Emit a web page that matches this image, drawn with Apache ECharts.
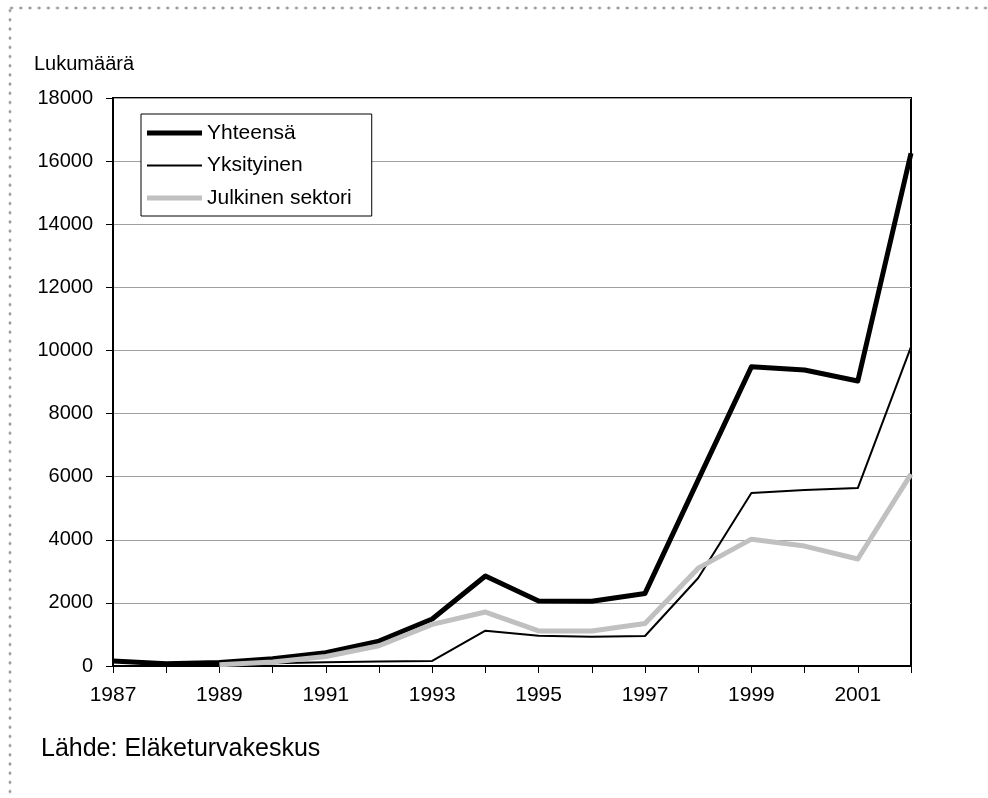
<!DOCTYPE html>
<html>
<head>
<meta charset="utf-8">
<script src="https://cdn.jsdelivr.net/npm/echarts@6/dist/echarts.min.js"></script>
<style>
  html, body { margin: 0; padding: 0; background: #fff; }
  #chart { position: absolute; left: 0; top: 0; width: 988px; height: 798px; }
  .dots-top { position: absolute; left: 7px; top: 6px; width: 990px; height: 4px;
    background-image: radial-gradient(circle, #9a9a9a 1.3px, rgba(255,255,255,0) 1.7px);
    background-size: 9.2px 4px; background-repeat: repeat-x; z-index: 2; }
  .dots-left { position: absolute; left: 8px; top: 6px; width: 4px; height: 800px;
    background-image: radial-gradient(circle, #9a9a9a 1.3px, rgba(255,255,255,0) 1.7px);
    background-size: 4px 9.2px; background-repeat: repeat-y; z-index: 2; }
</style>
</head>
<body>
<div id="chart"></div>
<div class="dots-top"></div>
<div class="dots-left"></div>
<script>
const years = ['1987','1988','1989','1990','1991','1992','1993','1994','1995','1996','1997','1998','1999','2000','2001','2002'];
const yhteensa = [160, 70, 110, 230, 420, 790, 1490, 2850, 2060, 2050, 2300, 5900, 9480, 9380, 9030, 16250];
const yksityinen = [150, 60, 70, 90, 120, 140, 160, 1120, 960, 930, 950, 2790, 5480, 5580, 5640, 10110];
const julkinen = ['-', '-', 40, 130, 300, 640, 1320, 1710, 1110, 1110, 1350, 3100, 4020, 3800, 3390, 6080];
const seriesNames = ['Yhteensä', 'Yksityinen', 'Julkinen sektori'];
const yTitle = 'Lukumäärä';
const sourceText = 'Lähde: Eläketurvakeskus';

const font = 'Arial, "Liberation Sans", sans-serif';
const thickIcon = 'path://M0,0H55V5H0Z';
const thinIcon = 'path://M0,0H55V2H0Z';
const chart = echarts.init(document.getElementById('chart'), null, { renderer: 'canvas' });
chart.setOption({
  animation: false,
  backgroundColor: '#fff',
  textStyle: { fontFamily: font, color: '#000' },
  title: [
    { text: yTitle, left: 34, top: 54, padding: 0,
      textStyle: { fontFamily: font, fontSize: 20, fontWeight: 'normal', color: '#000' } },
    { text: sourceText, left: 41, top: 737, padding: 0,
      textStyle: { fontFamily: font, fontSize: 25, fontWeight: 'normal', color: '#000' } }
  ],
  grid: { left: 113, top: 98, width: 798, height: 568, show: true,
    borderColor: '#000', borderWidth: 2, backgroundColor: 'transparent' },
  legend: {
    orient: 'vertical', left: 141, top: 114,
    data: [
      { name: seriesNames[0], icon: thickIcon },
      { name: seriesNames[1], icon: thinIcon },
      { name: seriesNames[2], icon: thickIcon }
    ],
    symbolKeepAspect: true,
    backgroundColor: '#fff', borderColor: '#000', borderWidth: 1,
    padding: [8, 20, 7, 6],
    itemWidth: 55, itemHeight: 12, itemGap: 10.5,
    textStyle: { fontFamily: font, fontSize: 21, color: '#000', lineHeight: 22 }
  },
  xAxis: {
    type: 'category', data: years, boundaryGap: false,
    axisLine: { lineStyle: { color: '#000', width: 2 } },
    axisTick: { show: true, interval: 0, length: 7, lineStyle: { color: '#000', width: 1 } },
    axisLabel: { interval: 1, fontFamily: font, fontSize: 21, color: '#000', margin: 19 },
    splitLine: { show: false }
  },
  yAxis: {
    type: 'value', min: 0, max: 18000, interval: 2000,
    axisLine: { show: true, lineStyle: { color: '#000', width: 2 } },
    axisTick: { show: true, length: 7, lineStyle: { color: '#000', width: 1 } },
    axisLabel: { fontFamily: font, fontSize: 20, color: '#000', margin: 20,
      formatter: function (v) { return String(v); } },
    splitLine: { show: true, lineStyle: { color: '#a0a0a0', width: 1 } }
  },
  series: [
    { name: seriesNames[0], type: 'line', data: yhteensa, symbol: 'none',
      lineStyle: { color: '#000', width: 5, join: 'round' }, itemStyle: { color: '#000' } },
    { name: seriesNames[1], type: 'line', data: yksityinen, symbol: 'none',
      lineStyle: { color: '#000', width: 2, join: 'round' }, itemStyle: { color: '#000' } },
    { name: seriesNames[2], type: 'line', data: julkinen, symbol: 'none',
      lineStyle: { color: '#c0c0c0', width: 5, join: 'round' }, itemStyle: { color: '#c0c0c0' } }
  ]
});
</script>
</body>
</html>
